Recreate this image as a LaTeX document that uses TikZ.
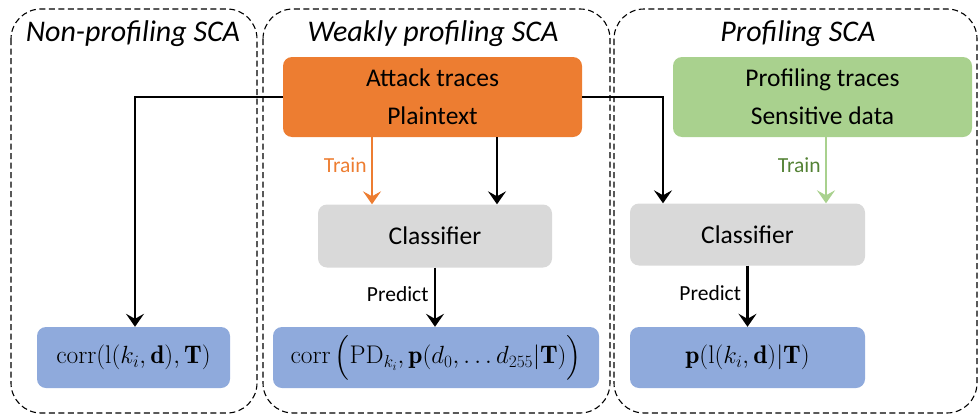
\documentclass[tikz,border=0pt]{standalone}
\usepackage{amsmath}
\usepackage{fontspec}
\newfontfamily\calib{Carlito}
\usetikzlibrary{arrows.meta}
\definecolor{orng}{HTML}{ED7D31}
\definecolor{grn}{HTML}{A9D18E}
\definecolor{dgrn}{HTML}{548235}
\definecolor{gry}{HTML}{D9D9D9}
\definecolor{blu}{HTML}{8FAADC}
\tikzset{
  region/.style={draw, dash pattern=on 6pt off 3.5pt, line width=1.1pt, rounded corners=30pt},
  title/.style={font=\calib\fontsize{30}{32}\selectfont\itshape, anchor=center},
  box/.style={rounded corners=9pt, inner sep=0pt, align=center, font=\calib\fontsize{25.5}{38}\selectfont},
  mbox/.style={rounded corners=9pt, inner sep=0pt, align=center, font=\fontsize{25.5}{28}\selectfont},
  conn/.style={line width=2.3pt, -{Stealth[length=13pt,width=18pt,inset=5pt]}},
  lbl/.style={font=\calib\fontsize{21.5}{24}\selectfont},
}
\begin{document}
\begin{tikzpicture}[x=1pt,y=-1pt]
\useasboundingbox (0,0) rectangle (979,415);
% regions
\draw[region] (11,9) rectangle (257,413);
\draw[region] (263,9) rectangle (610,413);
\draw[region] (614,9) rectangle (977,413);
\node[title] (t1) at (133,34) {Non-profiling SCA};
\node[title] (t2) at (433,34) {Weakly profiling SCA};
\node[title] (t3) at (798,34) {Profiling SCA};
% boxes
\node[box, fill=orng, minimum width=299pt, minimum height=80pt] (atk) at (432.5,97) {Attack traces\\Plaintext};
\node[box, fill=grn, minimum width=299pt, minimum height=80pt] (prof) at (822.5,97) {Profiling traces\\Sensitive data};
\node[box, fill=gry, minimum width=234pt, minimum height=63pt] (cls1) at (435,236) {Classifier};
\node[box, fill=gry, minimum width=235pt, minimum height=62pt] (cls2) at (747.5,234.5) {Classifier};
\node[mbox, fill=blu, minimum width=193pt, minimum height=61pt] (r1) at (133.5,357.5) {$\mathrm{corr}(\mathrm{l}(k_i,\mathbf{d}),\mathbf{T})$};
\node[mbox, fill=blu, minimum width=326pt, minimum height=61pt] (r2) at (436,357.5) {$\mathrm{corr}\,\Bigl(\mathrm{PD}_{k_i},\mathbf{p}(d_0,\ldots d_{255}|\mathbf{T})\Bigr)$};
\node[mbox, fill=blu, minimum width=235pt, minimum height=61pt] (r3) at (747.5,357.5) {$\mathbf{p}(\mathrm{l}(k_i,\mathbf{d})|\mathbf{T})$};
% connectors
\coordinate (c1) at (135,97);
\coordinate (c2) at (663,97);
\draw[conn] (atk.west |- c1) -| (r1.north -| c1);
\draw[conn] (atk.east |- c2) -| (cls2.north -| c2);
\draw[conn, draw=orng, line width=2pt] (atk.south -| 372,0) -- (cls1.north -| 372,0) node[lbl, text=orng, pos=0.42, left=1pt] (ltr1) {Train};
\draw[conn] (atk.south -| 497,0) -- (cls1.north -| 497,0);
\draw[conn, draw=grn, line width=2pt] (prof.south -| 826,0) -- (cls2.north -| 826,0) node[lbl, text=dgrn, pos=0.42, left=1pt] (ltr2) {Train};
\draw[conn] (cls1.south) -- (r2.north -| cls1.south) node[lbl, pos=0.45, left=2pt] (lp1) {Predict};
\draw[conn] (cls2.south) -- (r3.north -| cls2.south) node[lbl, pos=0.45, left=2pt] (lp2) {Predict};
\end{tikzpicture}
\end{document}
